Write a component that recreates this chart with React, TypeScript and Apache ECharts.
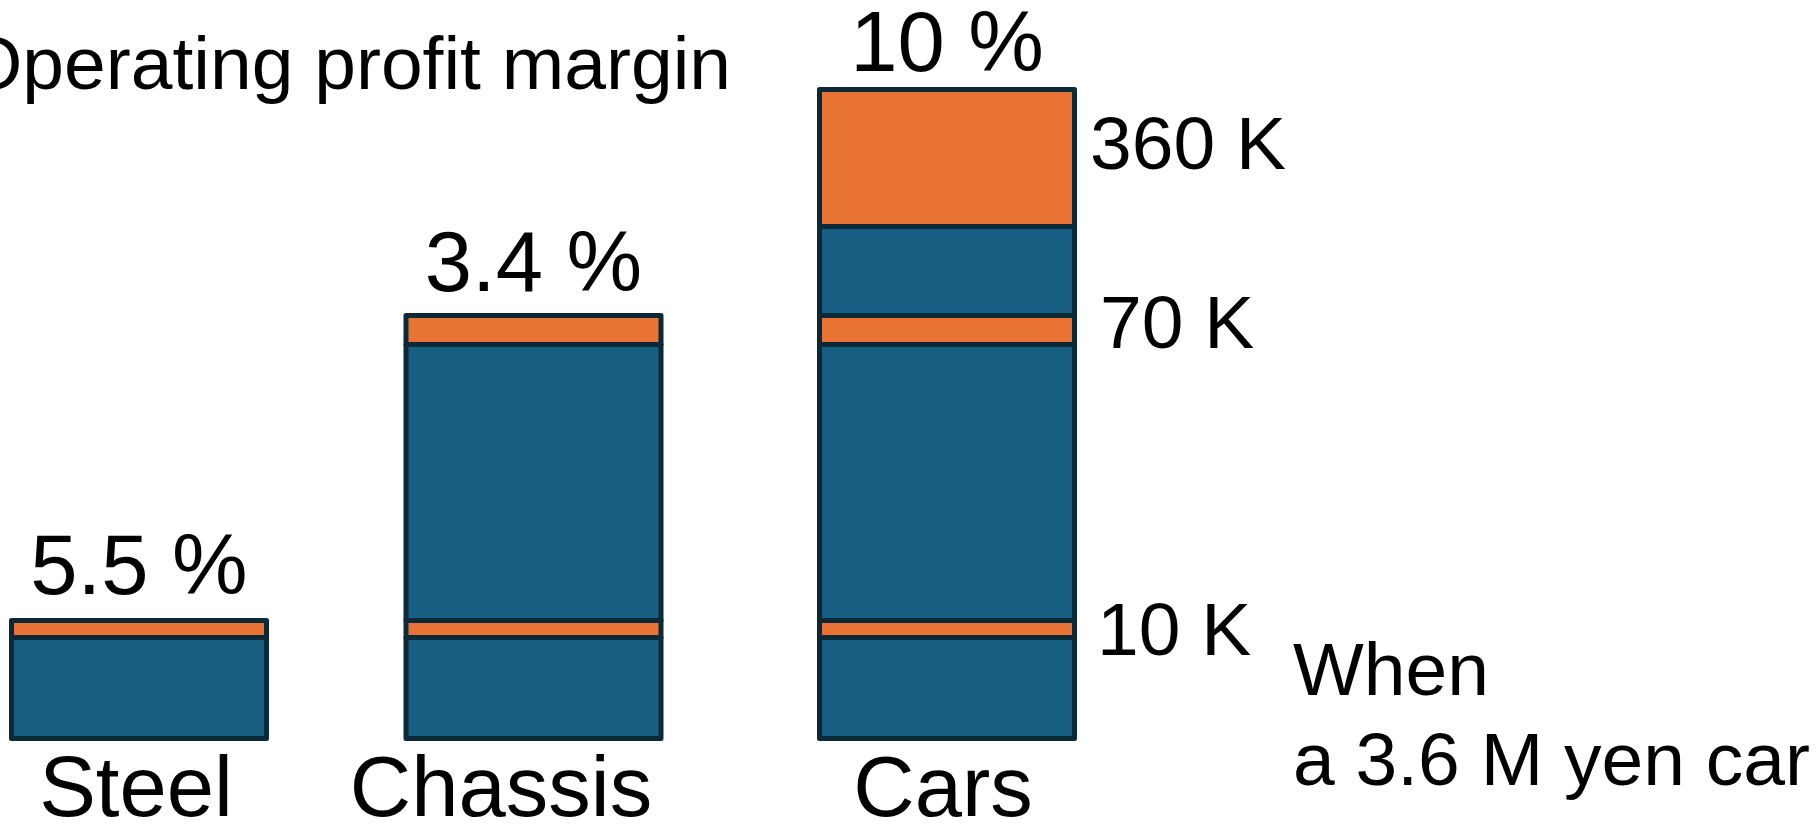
import React, { useEffect, useRef } from 'react';
import * as echarts from 'echarts';

// ---- data ----
const categories = ['Steel', 'Chassis', 'Cars'];
const marginLabels = ['5.5 %', '3.4 %', '10 %'];
const steelCost = [101, 101, 101];
const steelProfit = [17, 17, 17];
const chassisCost = [0, 276, 276];
const chassisProfit = [0, 29, 29];
const carCost = [0, 0, 89];
const carProfit = [0, 0, 137];
const profitLabels = ['10 K', '70 K', '360 K'];
const titleText = 'Operating profit margin';
const noteText = 'When\na 3.6 M yen car';

// ---- style / layout ----
const BLUE = '#175F82';
const ORANGE = '#E87334';
const DARK = '#0C2938';
const FONT = "'Liberation Sans', Arial, Helvetica, sans-serif";
const W = 1816;
const H = 826;
const barCenters = [139, 533.5, 947];
const gridWidth = 260;
const barWidth = 255;
const borderW = 5;
const gridTop = 89.5;
const gridBottom = H - 738.5;
const yMax = 649;
const pctFont = 85;
const pctDistance = [13.5, 11.5, 5.5];
const catPadding = [
  [0, 6, 0, 0],
  [0, 65, 0, 0],
  [0, 8, 0, 0],
];
const kLabelStyle = [
  { distance: 20, offset: [0, 0] },
  { distance: 23, offset: [0, -8.5] },
  { distance: 13, offset: [0, -15.5] },
];

const segments = [
  { data: steelCost, color: BLUE, k: -1 },
  { data: steelProfit, color: ORANGE, k: 0 },
  { data: chassisCost, color: BLUE, k: -1 },
  { data: chassisProfit, color: ORANGE, k: 1 },
  { data: carCost, color: BLUE, k: -1 },
  { data: carProfit, color: ORANGE, k: 2 },
];

function buildOption() {
  const grid: any[] = [];
  const xAxis: any[] = [];
  const yAxis: any[] = [];
  const series: any[] = [];
  categories.forEach((cat, i) => {
    grid.push({
      left: barCenters[i] - gridWidth / 2,
      width: gridWidth,
      top: gridTop,
      bottom: gridBottom,
      containLabel: false,
      outerBoundsMode: 'none',
    });
    xAxis.push({
      type: 'category',
      gridIndex: i,
      data: [cat],
      axisLine: { show: false },
      axisTick: { show: false },
      splitLine: { show: false },
      axisLabel: {
        show: true,
        margin: 13,
        fontSize: 85,
        lineHeight: 70,
        color: '#000',
        fontFamily: FONT,
        padding: catPadding[i],
      },
    });
    yAxis.push({ type: 'value', gridIndex: i, min: 0, max: yMax, show: false });

    // stacked rows: [category index, base, top, segment index]
    const rows: number[][] = [];
    let acc = 0;
    segments.forEach((seg, s) => {
      const v = seg.data[i];
      if (!(v > 0)) return;
      rows.push([0, acc, acc + v, s]);
      acc += v;
    });
    const lastRow = rows.length - 1;
    const showK = i === categories.length - 1;

    series.push({
      type: 'custom',
      xAxisIndex: i,
      yAxisIndex: i,
      silent: true,
      encode: { x: 0, y: [1, 2] },
      data: rows,
      renderItem: (params: any, api: any) => {
        const x = api.value(0);
        const base = api.value(1);
        const top = api.value(2);
        const seg = segments[api.value(3)];
        const p0 = api.coord([x, base]);
        const p1 = api.coord([x, top]);
        const rect: any = {
          type: 'rect',
          shape: { x: p0[0] - barWidth / 2, y: p1[1], width: barWidth, height: p0[1] - p1[1] },
          style: { fill: seg.color, stroke: DARK, lineWidth: borderW, lineJoin: 'round' },
        };
        if (showK && seg.k >= 0) {
          const ks = kLabelStyle[seg.k];
          rect.textContent = {
            type: 'text',
            style: { text: profitLabels[seg.k], fontSize: 75, lineHeight: 75, fontFamily: FONT, fill: '#000' },
          };
          rect.textConfig = { position: 'right', distance: ks.distance, offset: ks.offset };
        }
        const children: any[] = [rect];
        if (params.dataIndex === lastRow) {
          children.push({
            type: 'text',
            x: p1[0],
            y: p1[1] - pctDistance[i],
            style: {
              text: marginLabels[i],
              fontSize: pctFont,
              lineHeight: pctFont,
              fontFamily: FONT,
              fill: '#000',
              align: 'center',
              verticalAlign: 'bottom',
            },
          });
        }
        return { type: 'group', children };
      },
    });
  });

  return {
    animation: false,
    backgroundColor: '#ffffff',
    grid,
    xAxis,
    yAxis,
    series,
    graphic: [
      {
        type: 'text',
        x: -36,
        y: 63,
        silent: true,
        style: {
          text: titleText,
          fontSize: 75,
          fontFamily: FONT,
          fill: '#000',
          verticalAlign: 'middle',
          align: 'left',
        },
      },
      {
        type: 'text',
        x: 1293,
        y: 624,
        silent: true,
        style: {
          text: noteText,
          fontSize: 75,
          lineHeight: 90,
          fontFamily: FONT,
          fill: '#000',
          verticalAlign: 'top',
          align: 'left',
        },
      },
    ],
  };
}

export default function App() {
  const ref = useRef<HTMLDivElement>(null);
  useEffect(() => {
    if (!ref.current) return;
    const chart = echarts.init(ref.current, undefined, { renderer: 'svg' });
    chart.setOption(buildOption() as any);
    return () => chart.dispose();
  }, []);
  return (
    <div
      ref={ref}
      style={{ position: 'fixed', left: 0, top: 0, width: W, height: H, background: '#fff' }}
    />
  );
}
